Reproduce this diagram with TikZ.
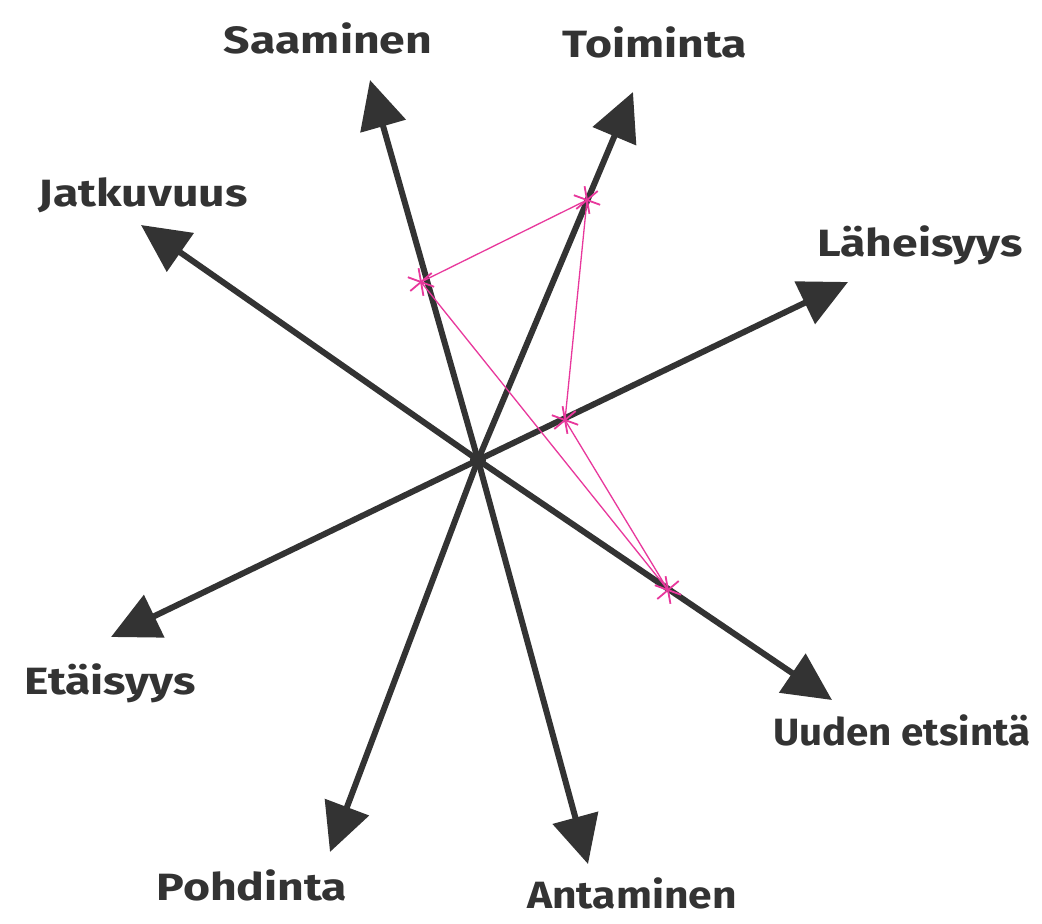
\documentclass[tikz,border=0pt]{standalone}
\usepackage{fontspec}
\setmainfont{Fira Sans}
\usetikzlibrary{arrows.meta}
\definecolor{ink}{HTML}{333333}
\definecolor{mag}{HTML}{E8389C}
\newcommand{\wide}[1]{\scalebox{1.22}[1]{#1}}
\begin{document}
\begin{tikzpicture}[x=1pt,y=-1pt,
  axis/.style={draw=ink, line width=6pt, -{Triangle[length=48pt,width=46pt]}},
  lbl/.style={font=\fontsize{38}{38}\selectfont\bfseries, text=ink, inner sep=0pt},
  pinkline/.style={draw=mag, line width=1.3pt},
  starstroke/.style={draw=mag, line width=1.8pt}]
\useasboundingbox (0,0) rectangle (1042,924);
\fill[white] (0,0) rectangle (1042,924);
% centre and tips
\coordinate (c) at (478,460);
\coordinate (tS) at (370,80);
\coordinate (tT) at (633,92);
\coordinate (tJ) at (141,225);
\coordinate (tL) at (848,282);
\coordinate (tE) at (111,637);
\coordinate (tU) at (832,700);
\coordinate (tP) at (330,852);
\coordinate (tA) at (588,864);
% axes
\foreach \t in {tS,tT,tJ,tL,tE,tU,tP,tA}
  \draw[axis] (c) -- (\t);
\fill[ink] (c) circle (8pt);
% labels
\node[lbl] (lS) at (328,38) {\wide{Saaminen}};
\node[lbl] (lT) at (655,42) {\wide{Toiminta}};
\node[lbl] (lJ) at (143,195) {\wide{Jatkuvuus}};
\node[lbl] (lL) at (920,245) {\wide{Läheisyys}};
\node[lbl] (lE) at (110,683) {\wide{Etäisyys}};
\node[lbl] (lU) at (902,730) {\scalebox{1.06}[1]{Uuden etsintä}};
\node[lbl] (lP) at (252,885) {\wide{Pohdinta}};
\node[lbl] (lA) at (632,893) {\scalebox{1.12}[1]{Antaminen}};
% pink points
\coordinate (pT) at (587,200);
\coordinate (pS) at (421,282);
\coordinate (pL) at (565,420);
\coordinate (pU) at (668,590);
\draw[pinkline] (pT) -- (pS) -- (pU) -- (pL) -- (pT);
\foreach \p in {pT,pS,pL,pU}
  \foreach \a in {20,80,140}
    \draw[starstroke] (\p) ++(\a:14) -- ++(\a+180:28);
\end{tikzpicture}
\end{document}
